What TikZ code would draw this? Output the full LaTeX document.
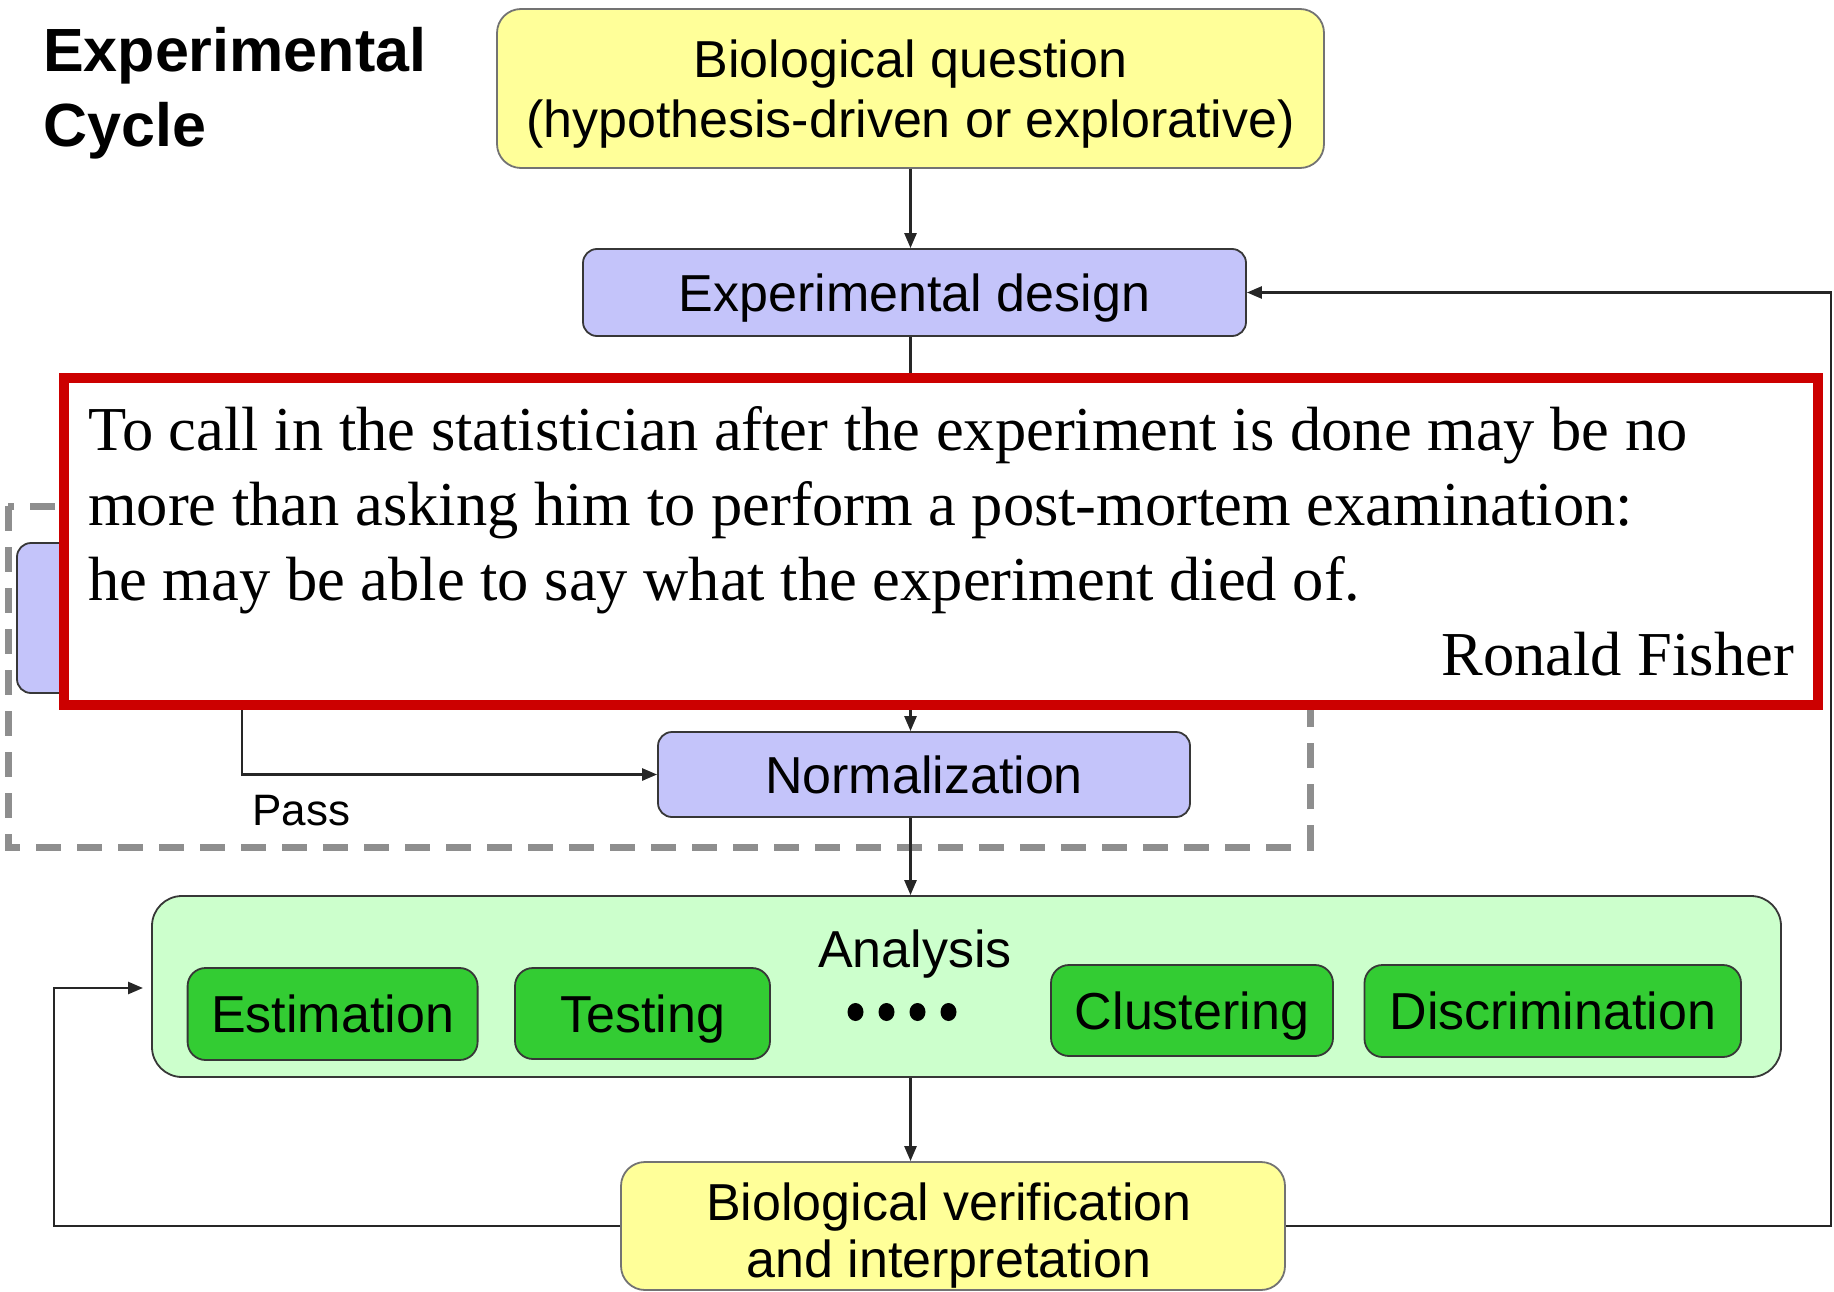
\documentclass[tikz,border=0pt]{standalone}
\usepackage{fontspec}
\setmainfont{Liberation Sans}
\newfontfamily\quotefont{Liberation Serif}
\usetikzlibrary{arrows.meta,calc}

\definecolor{qyellow}{RGB}{255,255,153}
\definecolor{qlav}{RGB}{196,196,250}
\definecolor{qlgreen}{RGB}{204,255,204}
\definecolor{qgreen}{RGB}{51,204,51}
\definecolor{qred}{RGB}{204,0,0}
\definecolor{qgray}{RGB}{142,142,142}
\definecolor{qborder}{RGB}{55,55,55}

\begin{document}
\begin{tikzpicture}[x=1pt,y=-1pt,
  boxbase/.style={draw=qborder, line width=1.8pt, inner sep=0pt},
  yelbox/.style={boxbase, fill=qyellow, rounded corners=24pt, draw=black!55},
  lavbox/.style={boxbase, fill=qlav, rounded corners=14pt},
  anbox/.style={boxbase, fill=qlgreen, rounded corners=30pt},
  grbox/.style={boxbase, fill=qgreen, rounded corners=18pt},
  bigfont/.style={font=\fontsize{52pt}{60pt}\selectfont},
  boxtext/.style={bigfont, text height=37pt, text depth=0pt},
  qline/.style={font=\quotefont\fontsize{62.5pt}{75pt}\selectfont, inner sep=0pt},
  conn/.style={line width=2.6pt, draw=black!85},
  arr/.style={conn, -{Triangle[length=15pt,width=12pt]}},
  qcdash/.style={draw=qgray, line width=7pt, dash pattern=on 25pt off 16pt},
]
\useasboundingbox (0,0) rectangle (1834,1292);

% title
\node[anchor=base west, inner sep=0pt, font=\bfseries\fontsize{61pt}{75pt}\selectfont] (title1) at (43,72) {Experimental};
\node[anchor=base west, inner sep=0pt, font=\bfseries\fontsize{61pt}{75pt}\selectfont] (title2) at (43,147) {Cycle};

% biological question
\node[yelbox, minimum width=827pt, minimum height=159pt] (bioq) at (910.5,88.5) {};
\node[bigfont, anchor=base, inner sep=0pt] (bioq1) at (910.5,78) {Biological question};
\node[bigfont, anchor=base, inner sep=0pt] (bioq2) at (910.5,138) {(hypothesis-driven or explorative)};

% experimental design
\node[lavbox, boxtext, minimum width=663pt, minimum height=87pt] (design) at (914.5,292.5) {Experimental design};

\coordinate (spine) at (910.5,0);
\draw[arr] (bioq.south) -- (spine |- design.north);

% dashed quality block (mostly hidden)
\draw[qcdash] (8,506) rectangle (1310,847);
\node[lavbox, minimum width=450pt, minimum height=150pt] (qa) at (242,618) {};

% normalization
\node[lavbox, boxtext, minimum width=532pt, minimum height=85pt] (norm) at (924,774.5) {Normalization};
\draw[arr] (qa.south) |- (norm.west);
\node[anchor=base west, inner sep=0pt, font=\fontsize{44pt}{50pt}\selectfont] (pass) at (252,825) {Pass};
\draw[arr] (spine |- design.south) -- (spine |- norm.north);

% quote box
\node[draw=qred, line width=10pt, fill=white, inner sep=0pt,
      minimum width=1754pt, minimum height=327.5pt] (quote) at (941,541.25) {};
\node[qline, anchor=base west] (q1) at (88,450) {To call in the statistician after the experiment is done may be no};
\node[qline, anchor=base west] (q2) at (88,525) {more than asking him to perform a post-mortem examination:};
\node[qline, anchor=base west] (q3) at (88,600) {he may be able to say what the experiment died of.};
\node[qline, anchor=base east] (q4) at (1794,675) {Ronald Fisher};

% analysis
\node[anbox, minimum width=1629pt, minimum height=181pt] (analysis) at (966.5,986.5) {};
\draw[arr] (spine |- norm.south) -- (spine |- analysis.north);
\node[bigfont, anchor=base, inner sep=0pt] (antitle) at (915,967) {Analysis};
\node[grbox, boxtext, minimum width=290pt, minimum height=92pt] (est) at (332.6,1014) {Estimation};
\node[grbox, boxtext, minimum width=255pt, minimum height=91pt] (test) at (642.5,1013.5) {Testing};
\node[grbox, boxtext, minimum width=282pt, minimum height=91pt] (clust) at (1192,1010.5) {Clustering};
\node[grbox, boxtext, minimum width=376.5pt, minimum height=92pt] (disc) at (1552.75,1011) {Discrimination};
\foreach \dx in {855.5,886.5,917.5,948.5}
  \fill[black] (\dx,1012) ellipse [x radius=8pt, y radius=9pt];

% biological verification
\node[yelbox, minimum width=664pt, minimum height=128pt] (bioverif) at (953,1226) {};
\node[bigfont, anchor=base, inner sep=0pt] (bv1) at (949,1220) {Biological verification};
\node[bigfont, anchor=base, inner sep=0pt] (bv2) at (949,1277) {and interpretation};
\draw[arr] (spine |- analysis.south) -- (spine |- bioverif.north);

% feedback loops
\coordinate (lc) at (54,988);
\coordinate (anin) at (143,988);
\draw[arr] (bioverif.west) -| (lc) -- (anin);
\coordinate (rc) at (1831,292.5);
\draw[arr] (bioverif.east) -| (rc) -- (design.east);
\end{tikzpicture}
\end{document}
